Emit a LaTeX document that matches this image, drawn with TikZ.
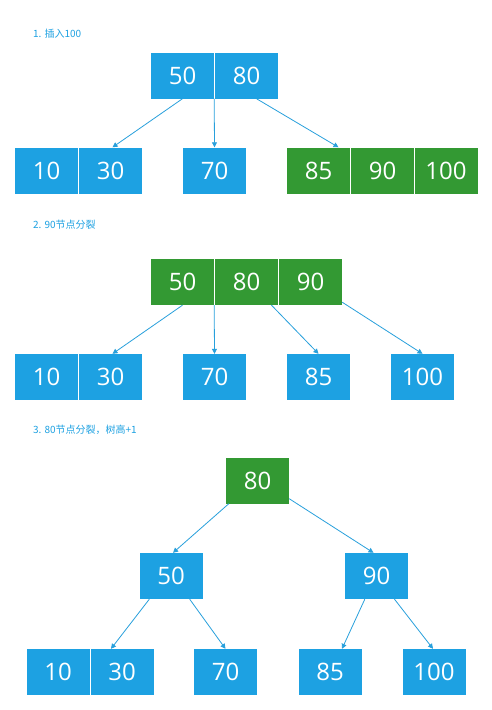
\documentclass[tikz,border=0pt]{standalone}
\usepackage{fontspec}
\setmainfont{Open Sans}
\newfontfamily\cjk{Noto Sans CJK SC}
\usetikzlibrary{arrows.meta,calc}
\definecolor{cellblue}{RGB}{29,161,226}
\definecolor{cellgreen}{RGB}{51,153,51}
\definecolor{linkblue}{RGB}{40,160,220}
\tikzset{
  cellb/.style={rectangle,fill=cellblue,minimum width=63pt,minimum height=46pt,inner sep=0pt,text=white,font=\fontsize{24}{24}\selectfont},
  cellg/.style={cellb,fill=cellgreen},
  link/.style={draw=linkblue,line width=0.8pt,-{Triangle[length=5pt,width=5pt]}},
  steplabel/.style={anchor=base west,inner sep=0pt,text=cellblue,font=\cjk\fontsize{10}{10}\selectfont}
}
\begin{document}
\begin{tikzpicture}[x=1pt,y=-1pt]
\useasboundingbox (0,0) rectangle (492,710);
\fill[white] (0,0) rectangle (492,710);
% ---- section 1
\node[steplabel] (l1) at (33,37.5) {1. 插入100};
\node[cellb] (a50) at (182.5,75.5) {50};
\node[cellb] (a80) at (246.5,75.5) {80};
\node[cellb] (a10) at (46.5,170.5) {10};
\node[cellb] (a30) at (110.5,170.5) {30};
\node[cellb] (a70) at (214.5,170.5) {70};
\node[cellg] (a85) at (318.5,170.5) {85};
\node[cellg] (a90) at (382.5,170.5) {90};
\node[cellg] (a100) at (446,170.5) {100};
\draw[link] (a50.south) -- ($(a30.north)+(2,0)$);
\draw[link] (a50.south east) -- (a70.north);
\draw[link] ($(a80.south)+(10,0)$) -- ($(a85.north)+(20,0)$);
% ---- section 2
\node[steplabel] (l2) at (33,228.5) {2. 90节点分裂};
\node[cellg] (b50) at (182.5,282) {50};
\node[cellg] (b80) at (246.5,282) {80};
\node[cellg] (b90) at (310.5,282) {90};
\node[cellb] (b10) at (46.5,377) {10};
\node[cellb] (b30) at (110.5,377) {30};
\node[cellb] (b70) at (214.5,377) {70};
\node[cellb] (b85) at (318.5,377) {85};
\node[cellb] (b100) at (422.5,377) {100};
\draw[link] (b50.south) -- ($(b30.north)+(2,0)$);
\draw[link] (b50.south east) -- (b70.north);
\draw[link] ($(b80.south)+(25,0)$) -- (b85.north);
\draw[link] ($(b90.south east)+(0,-3)$) -- (b100.north);
% ---- section 3
\node[steplabel] (l3) at (33,433.5) {3. 80节点分裂，树高+1};
\node[cellg] (c80) at (257.5,480.5) {80};
\node[cellb] (c50) at (171,576) {50};
\node[cellb] (c90) at (376.5,576) {90};
\node[cellb] (c10) at (58,672) {10};
\node[cellb] (c30) at (122,672) {30};
\node[cellb] (c70) at (225.5,672) {70};
\node[cellb] (c85) at (330,672) {85};
\node[cellb] (c100) at (434,672) {100};
\draw[link] ($(c80.south west)+(3,0)$) -- ($(c50.north)+(2,0)$);
\draw[link] ($(c80.south east)+(0,-5)$) -- ($(c90.north)+(-3,0)$);
\draw[link] ($(c50.south west)+(10,0)$) -- ($(c30.north)+(-11,0)$);
\draw[link] ($(c50.south east)+(-13,0)$) -- (c70.north);
\draw[link] ($(c90.south west)+(20,0)$) -- ($(c85.north)+(12,0)$);
\draw[link] ($(c90.south)+(18,0)$) -- ($(c100.north)+(-1,0)$);
\end{tikzpicture}
\end{document}
